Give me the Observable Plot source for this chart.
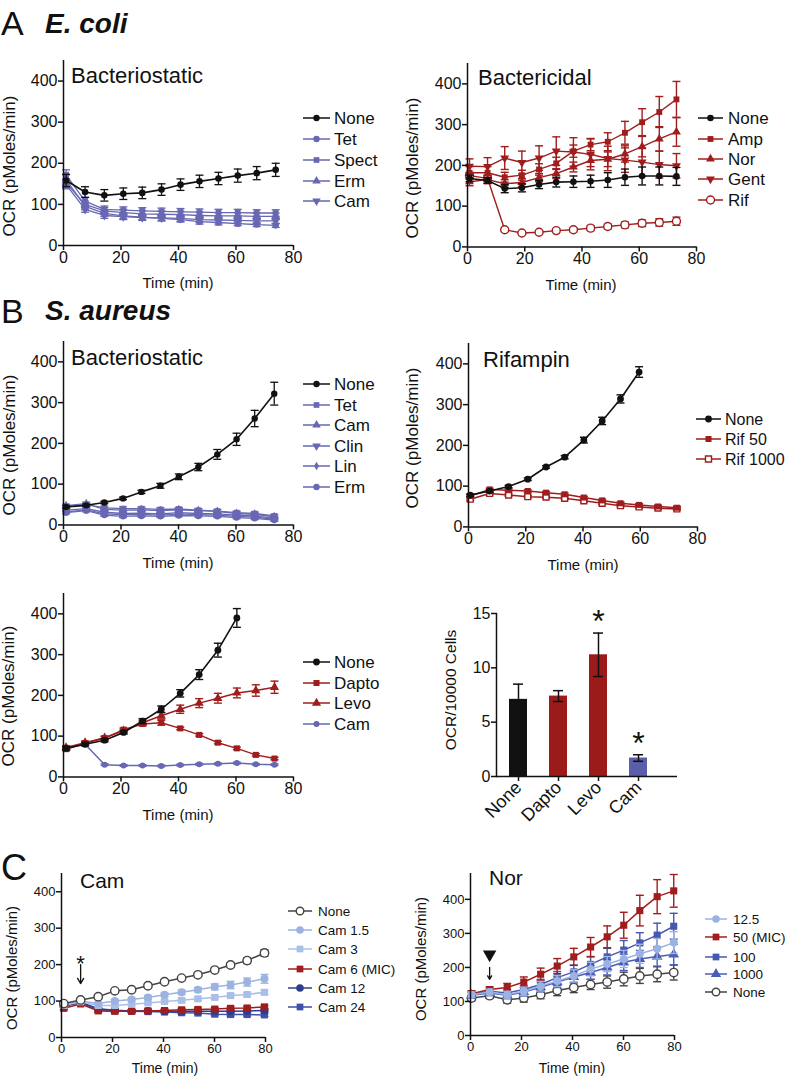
<!DOCTYPE html>
<html><head><meta charset="utf-8">
<script src="https://cdn.jsdelivr.net/npm/d3@7"></script>
<script src="https://cdn.jsdelivr.net/npm/@observablehq/plot@0.6"></script>
<style>
body{margin:0;background:#fff;}
#fig{position:relative;width:789px;height:1078px;overflow:hidden;font-family:"Liberation Sans",Arial,sans-serif;background:#fff;}
#fig svg{position:absolute;}
</style></head><body><div id="fig"></div>
<script>
// ---------------- DATA ----------------
// A: E. coli, bacteriostatic
const ecoliStaticTime = [0.9, 7.5, 14.2, 20.8, 27.4, 34.1, 40.7, 47.3, 53.9, 60.6, 67.2, 73.8];
const ecoliStaticNames = ["None", "Tet", "Spect", "Erm", "Cam"];
const ecoliStaticValues = [
  [158, 130, 122, 126, 128, 136, 148, 156, 163, 170, 176, 184],
  [160, 95, 78, 72, 69, 66, 63, 58, 56, 53, 51, 49],
  [172, 108, 88, 86, 84, 83, 82, 81, 80, 80, 79, 79],
  [152, 100, 84, 80, 77, 76, 75, 73, 72, 72, 71, 71],
  [148, 88, 73, 70, 68, 67, 66, 63, 62, 61, 60, 60]
];
const ecoliStaticErrors = [
  [15, 13, 14, 14, 14, 14, 14, 15, 15, 16, 16, 16],
  [12, 8, 7, 7, 6, 6, 6, 6, 6, 5, 5, 5],
  [12, 9, 8, 8, 8, 8, 8, 8, 8, 8, 8, 8],
  [10, 8, 8, 8, 8, 8, 8, 8, 8, 8, 8, 8],
  [10, 7, 7, 7, 7, 7, 7, 7, 7, 7, 7, 7]
];
// A: E. coli, bactericidal
const ecoliCidalTime = [0.7, 7, 13, 19, 25, 31, 37, 43, 49, 55, 61, 67, 73];
const ecoliCidalNames = ["None", "Amp", "Nor", "Gent", "Rif"];
const ecoliCidalValues = [
  [168, 163, 143, 145, 153, 159, 160, 161, 164, 171, 174, 174, 173],
  [182, 182, 171, 176, 190, 205, 235, 251, 258, 280, 306, 331, 362],
  [160, 165, 155, 158, 170, 180, 196, 212, 215, 228, 246, 265, 282],
  [198, 197, 218, 207, 218, 235, 233, 227, 217, 213, 208, 202, 199],
  [175, 168, 42, 34, 36, 40, 42, 46, 50, 54, 58, 60, 63]
];
const ecoliCidalErrors = [
  [8, 7, 10, 10, 10, 12, 14, 15, 18, 20, 22, 22, 22],
  [15, 15, 12, 12, 14, 15, 15, 15, 22, 28, 33, 38, 44],
  [10, 10, 10, 10, 10, 12, 12, 15, 18, 20, 25, 30, 35],
  [18, 22, 28, 28, 30, 35, 35, 38, 30, 30, 35, 33, 30],
  [8, 8, 4, 3, 3, 4, 5, 6, 6, 7, 8, 9, 10]
];
// B: S. aureus, bacteriostatic
const aureusStaticTime = [0.9, 7.9, 14.2, 20.7, 27.1, 33.7, 40.1, 46.9, 53.5, 60.2, 66.5, 73.3];
const aureusStaticNames = ["None", "Tet", "Cam", "Clin", "Lin", "Erm"];
const aureusStaticValues = [
  [44, 48, 55, 65, 81, 96, 118, 142, 173, 210, 261, 322],
  [45, 50, 42, 40, 40, 38, 39, 36, 34, 30, 28, 22],
  [47, 52, 38, 36, 37, 35, 37, 35, 33, 28, 26, 20],
  [36, 40, 31, 28, 29, 27, 30, 28, 27, 24, 22, 16],
  [32, 37, 27, 25, 26, 24, 27, 25, 24, 21, 19, 14],
  [30, 35, 24, 21, 22, 21, 23, 22, 21, 18, 16, 12]
];
const aureusStaticErrors = [
  [3, 3, 3, 3, 4, 6, 7, 9, 12, 15, 20, 28],
  [4, 4, 4, 4, 4, 4, 4, 4, 4, 4, 4, 4],
  [4, 4, 4, 4, 4, 4, 4, 4, 4, 4, 4, 4],
  [3, 3, 3, 3, 3, 3, 3, 3, 3, 3, 3, 3],
  [3, 3, 3, 3, 3, 3, 3, 3, 3, 3, 3, 3],
  [3, 3, 3, 3, 3, 3, 3, 3, 3, 3, 3, 3]
];
// B: S. aureus, rifampin
const aureusRifTime = [0.6, 7.4, 14, 20.7, 27.1, 33.6, 40.3, 46.7, 53.1, 59.6, 66.2, 72.8];
const aureusRifNames = ["None", "Rif 50", "Rif 1000"];
const aureusRifValues = [
  [78, 88, 99, 117, 147, 171, 213, 260, 314, 380],
  [76, 92, 90, 88, 84, 80, 72, 65, 58, 54, 50, 47],
  [68, 82, 78, 74, 73, 70, 64, 58, 52, 49, 46, 44]
];
const aureusRifErrors = [
  [3, 3, 3, 3, 3, 4, 7, 9, 10, 13],
  [3, 3, 3, 3, 3, 3, 3, 3, 3, 3, 3, 3],
  [3, 3, 3, 3, 3, 3, 3, 3, 3, 3, 3, 3]
];
// B: S. aureus, dapto / levo / cam
const aureusMixTime = [0.9, 7.5, 14.3, 20.9, 27.5, 34, 40.6, 47.2, 53.7, 60.3, 66.9, 73.4];
const aureusMixNames = ["None", "Dapto", "Levo", "Cam"];
const aureusMixValues = [
  [70, 80, 90, 109, 137, 166, 205, 251, 311, 390],
  [68, 83, 95, 116, 130, 133, 119, 103, 84, 70, 54, 45],
  [72, 84, 96, 113, 133, 150, 166, 181, 193, 206, 212, 220],
  [73, 80, 30, 28, 28, 27, 29, 31, 32, 34, 31, 30]
];
const aureusMixErrors = [
  [4, 4, 4, 4, 6, 8, 9, 12, 17, 23],
  [4, 4, 4, 4, 5, 6, 3, 3, 3, 3, 3, 3],
  [4, 4, 4, 4, 6, 8, 10, 11, 12, 12, 14, 15],
  [3, 3, 2, 2, 2, 2, 2, 2, 2, 2, 2, 2]
];
// B: bar chart
const barNames = ["None", "Dapto", "Levo", "Cam"];
const barValues = [7.1, 7.4, 11.2, 1.7];
const barErrors = [1.4, 0.5, 2.0, 0.3];
const starNames = ["Levo", "Cam"];
const starValues = [14.2, 3.0];
// C: Cam doses
const camTime = [0.9, 7.5, 14.4, 20.9, 27.5, 33.9, 40.4, 47.1, 53.5, 60.1, 66.3, 72.8, 79.6];
const camNames = ["None", "Cam 1.5", "Cam 3", "Cam 6 (MIC)", "Cam 12", "Cam 24"];
const camValues = [
  [93, 103, 112, 128, 131, 142, 153, 163, 172, 185, 199, 211, 232],
  [90, 100, 93, 100, 104, 110, 117, 124, 131, 139, 144, 152, 161],
  [88, 98, 88, 88, 91, 95, 99, 102, 106, 110, 115, 118, 124],
  [80, 92, 73, 72, 72, 73, 74, 76, 77, 78, 80, 81, 84],
  [86, 97, 79, 75, 73, 73, 72, 72, 72, 72, 72, 73, 74],
  [87, 95, 76, 73, 72, 71, 70, 68, 67, 64, 63, 63, 62]
];
const camErrors = [
  [3, 3, 3, 3, 3, 3, 3, 3, 3, 4, 5, 8, 9],
  [3, 3, 3, 4, 4, 5, 5, 6, 6, 8, 10, 11, 12],
  [3, 3, 3, 3, 3, 4, 4, 4, 4, 5, 5, 5, 6],
  [4, 4, 4, 4, 4, 4, 4, 4, 4, 4, 4, 4, 4],
  [3, 3, 3, 3, 3, 3, 3, 3, 3, 3, 3, 3, 3],
  [4, 4, 4, 4, 4, 4, 4, 4, 4, 4, 4, 4, 4]
];
const camMarkerTime = 7.5, camMarkerStar = 219, camArrowTop = 200, camArrowTip = 148;
// C: Nor doses
const norTime = [0.4, 7.5, 14.4, 20.9, 27.5, 34, 40.5, 47.1, 53.6, 60.1, 66.4, 73.2, 79.7];
const norNames = ["12.5", "50 (MIC)", "100", "1000", "None"];
const norValues = [
  [120, 128, 120, 130, 145, 160, 175, 195, 210, 225, 240, 255, 273],
  [123, 135, 141, 157, 180, 204, 231, 260, 290, 324, 367, 408, 425],
  [122, 130, 125, 135, 150, 170, 187, 209, 231, 251, 272, 295, 321],
  [118, 125, 118, 128, 142, 157, 172, 185, 200, 215, 225, 232, 238],
  [110, 117, 105, 110, 120, 132, 141, 150, 157, 166, 175, 180, 185]
];
const norErrors = [
  [8, 8, 10, 12, 14, 16, 18, 20, 22, 25, 28, 30, 32],
  [8, 8, 12, 15, 18, 22, 25, 28, 32, 38, 45, 50, 48],
  [8, 8, 10, 12, 15, 18, 20, 22, 25, 28, 30, 35, 38],
  [8, 8, 10, 12, 14, 16, 18, 20, 22, 24, 25, 28, 30],
  [8, 8, 10, 12, 12, 15, 15, 15, 18, 20, 22, 22, 22]
];
const norMarkerTime = 7.5, norMarkerHead = 238, norArrowTop = 200, norArrowTip = 165;
const xTicks = [0, 20, 40, 60, 80];
const yTicks = [0, 100, 200, 300, 400];
const barTicks = [0, 5, 10, 15];

// ---------------- STYLES ----------------
const K = "#111111", BL = "#6767b3", RD = "#a11d1d";
const LB1 = "#9cb3e2", LB2 = "#aabfe8", DB1 = "#2f3d8f", DB2 = "#3f50a6", MB1 = "#4658b0", MB2 = "#4b5db8";
const FONT = "'Liberation Sans', Arial, sans-serif";
const fig = document.getElementById("fig");

function place(svg, left, top) {
  svg.style.left = left + "px"; svg.style.top = top + "px";
  fig.appendChild(svg);
}

function linePanel(c) {
  const left = c.fx0 - 62, top = c.fyTop - 10;
  const W = c.fx1 + 14 - left, H = c.fy0 + 30 - top;
  const cap = c.cap / ((c.fx1 - c.fx0) / 80);
  const rows = [];
  c.names.forEach((n, i) => c.values[i].forEach((v, j) => rows.push({name: n, i, t: c.time[j], v, e: c.errors[i][j]})));
  const marks = [];
  for (let i = c.names.length - 1; i >= 0; i--) {
    const d = rows.filter(r => r.i === i);
    const st = c.styles[i];
    marks.push(
      Plot.ruleX(d, {x: "t", y1: r => r.v - r.e, y2: r => r.v + r.e, stroke: st.color, strokeWidth: c.ew}),
      Plot.link(d, {x1: r => r.t - cap, x2: r => r.t + cap, y1: r => r.v + r.e, y2: r => r.v + r.e, stroke: st.color, strokeWidth: c.ew}),
      Plot.link(d, {x1: r => r.t - cap, x2: r => r.t + cap, y1: r => r.v - r.e, y2: r => r.v - r.e, stroke: st.color, strokeWidth: c.ew}),
      Plot.line(d, {x: "t", y: "v", stroke: st.color, strokeWidth: st.lw || c.lw}),
      Plot.dot(d, {x: "t", y: "v", symbol: st.symbol, rotate: st.rotate || 0, r: st.r || c.r,
        fill: st.open ? "white" : st.color, stroke: st.color, strokeWidth: st.open ? 1.4 : 0})
    );
  }
  if (c.extra) marks.push(...c.extra);
  marks.push(
    Plot.ruleX([0], {strokeWidth: 1.5, stroke: K}),
    Plot.ruleY([0], {strokeWidth: 1.5, stroke: K}),
    Plot.axisX({ticks: xTicks, tickSize: 5, tickPadding: 1, fontSize: c.tickFont, label: null, strokeWidth: 1.5}),
    Plot.axisY({ticks: yTicks, tickSize: 5, tickPadding: 1, fontSize: c.tickFont, label: null, strokeWidth: 1.5})
  );
  const svg = Plot.plot({
    width: W, height: H,
    marginLeft: c.fx0 - left, marginRight: left + W - c.fx1,
    marginTop: c.fyTop - top, marginBottom: top + H - c.fy0,
    x: {domain: [0, 80]}, y: {domain: [0, c.yMax]},
    style: {fontFamily: FONT, color: K, background: "transparent", overflow: "visible"},
    marks
  });
  place(svg, left, top);
}

// A left
linePanel({fx0: 63, fx1: 293, fy0: 245, fyTop: 60, yMax: 450, time: ecoliStaticTime, names: ecoliStaticNames,
  values: ecoliStaticValues, errors: ecoliStaticErrors, cap: 4, ew: 1.3, lw: 1.3, r: 3.3, tickFont: 16,
  styles: [{color: K, symbol: "circle", lw: 1.6}, {color: BL, symbol: "circle"}, {color: BL, symbol: "square"},
    {color: BL, symbol: "triangle"}, {color: BL, symbol: "triangle", rotate: 180}]});
// A right
linePanel({fx0: 467, fx1: 696, fy0: 246, fyTop: 62.6, yMax: 450, time: ecoliCidalTime, names: ecoliCidalNames,
  values: ecoliCidalValues, errors: ecoliCidalErrors, cap: 4, ew: 1.4, lw: 1.4, r: 3.3, tickFont: 16,
  styles: [{color: K, symbol: "circle", lw: 1.6}, {color: RD, symbol: "square"}, {color: RD, symbol: "triangle"},
    {color: RD, symbol: "triangle", rotate: 180}, {color: RD, symbol: "circle", open: true, r: 4}]});
// B left
linePanel({fx0: 63, fx1: 293, fy0: 524, fyTop: 340.6, yMax: 450, time: aureusStaticTime, names: aureusStaticNames,
  values: aureusStaticValues, errors: aureusStaticErrors, cap: 4, ew: 1.3, lw: 1.3, r: 3.2, tickFont: 16,
  styles: [{color: K, symbol: "circle", lw: 1.6}, {color: BL, symbol: "square"}, {color: BL, symbol: "triangle"},
    {color: BL, symbol: "triangle", rotate: 180}, {color: BL, symbol: "diamond", r: 2.6}, {color: BL, symbol: "circle"}]});
// B right
linePanel({fx0: 468, fx1: 697, fy0: 526, fyTop: 342.6, yMax: 450, time: aureusRifTime, names: aureusRifNames,
  values: aureusRifValues, errors: aureusRifErrors, cap: 4, ew: 1.4, lw: 1.5, r: 3.4, tickFont: 16,
  styles: [{color: K, symbol: "circle", lw: 1.6}, {color: RD, symbol: "square"}, {color: RD, symbol: "square", open: true, r: 3.3}]});
// B lower left
linePanel({fx0: 63, fx1: 293, fy0: 776, fyTop: 592.6, yMax: 450, time: aureusMixTime, names: aureusMixNames,
  values: aureusMixValues, errors: aureusMixErrors, cap: 4, ew: 1.4, lw: 1.5, r: 3.4, tickFont: 16,
  styles: [{color: K, symbol: "circle", lw: 1.6}, {color: RD, symbol: "square"}, {color: RD, symbol: "triangle"},
    {color: BL, symbol: "circle", r: 3}]});
// C left
linePanel({fx0: 61, fx1: 265, fy0: 1037, fyTop: 873, yMax: 450, time: camTime, names: camNames,
  values: camValues, errors: camErrors, cap: 4, ew: 1.4, lw: 1.5, r: 4, tickFont: 13,
  styles: [{color: "#444", symbol: "circle", open: true, r: 4.2}, {color: LB1, symbol: "circle"}, {color: LB2, symbol: "square"},
    {color: RD, symbol: "square"}, {color: DB1, symbol: "circle"}, {color: DB2, symbol: "square"}],
  extra: [
    Plot.arrow([{t: camMarkerTime}], {x1: "t", x2: "t", y1: () => camArrowTop, y2: () => camArrowTip, stroke: K, strokeWidth: 1.3, headLength: 7}),
    Plot.text([{t: camMarkerTime}], {x: "t", y: () => camMarkerStar, text: () => "*", fontSize: 22, fill: K, dy: 6})
  ]});
// C right
linePanel({fx0: 470, fx1: 674, fy0: 1035, fyTop: 873, yMax: 476, time: norTime, names: norNames,
  values: norValues, errors: norErrors, cap: 4, ew: 1.4, lw: 1.5, r: 4, tickFont: 13,
  styles: [{color: LB1, symbol: "circle"}, {color: RD, symbol: "square"}, {color: MB1, symbol: "square"},
    {color: MB2, symbol: "triangle"}, {color: "#444", symbol: "circle", open: true, r: 4.2}],
  extra: [
    Plot.arrow([{t: norMarkerTime}], {x1: "t", x2: "t", y1: () => norArrowTop, y2: () => norArrowTip, stroke: K, strokeWidth: 1.3, headLength: 7}),
    Plot.dot([{t: norMarkerTime}], {x: "t", y: () => norMarkerHead, symbol: "triangle", rotate: 180, r: 5, fill: K})
  ]});

// Bar chart
{
  const rows = barNames.map((n, i) => ({name: n, v: barValues[i], e: barErrors[i]}));
  const stars = starNames.map((n, i) => ({name: n, y: starValues[i]}));
  const svg = Plot.plot({
    width: 300, height: 245, marginLeft: 96, marginRight: 23, marginTop: 18, marginBottom: 64,
    x: {domain: barNames, range: [96, 259], paddingInner: 0.55, paddingOuter: 0.275},
    y: {domain: [0, 15]},
    color: {domain: barNames, range: [K, "#9b1b1b", "#9b1b1b", "#5b5ea8"]},
    style: {fontFamily: FONT, color: K, background: "transparent", overflow: "visible"},
    marks: [
      Plot.barY(rows, {x: "name", y: "v", fill: "name"}),
      Plot.ruleX(rows, {x: "name", y1: d => d.v - d.e, y2: d => d.v + d.e, stroke: K, strokeWidth: 1.5}),
      Plot.tickY(rows, {x: "name", y: d => d.v + d.e, insetLeft: 4, insetRight: 4, stroke: K, strokeWidth: 1.5}),
      Plot.tickY(rows, {x: "name", y: d => d.v - d.e, insetLeft: 4, insetRight: 4, stroke: K, strokeWidth: 1.5}),
      Plot.text(stars, {x: "name", y: "y", text: () => "*", fontSize: 32, fill: K}),
      Plot.ruleY([0], {stroke: K, strokeWidth: 1.5}),
      Plot.frame({anchor: "left", stroke: K, strokeWidth: 1.5}),
      Plot.axisY({ticks: barTicks, tickSize: 5, tickPadding: 1, fontSize: 16, label: null, strokeWidth: 1.5}),
      Plot.axisX({tickRotate: -45, tickSize: 5, tickPadding: 3, fontSize: 18, label: null, strokeWidth: 1.5})
    ]
  });
  place(svg, 400, 595);
}

// ---------------- OVERLAY: titles, labels, legends ----------------
const ov = d3.select(fig).append("svg").attr("width", 789).attr("height", 1078)
  .style("left", "0px").style("top", "0px").style("font-family", FONT).style("pointer-events", "none");

function txt(x, y, s, o = {}) {
  const t = ov.append("text").attr("x", x).attr("y", y).text(s)
    .attr("font-size", o.size || 15).attr("fill", K)
    .attr("text-anchor", o.anchor || "start");
  if (o.weight) t.attr("font-weight", o.weight);
  if (o.italic) t.attr("font-style", "italic");
  return t;
}
function ylab(x, y, s, size) {
  ov.append("text").attr("transform", `translate(${x},${y}) rotate(-90)`).attr("text-anchor", "middle")
    .attr("dy", "0.35em").attr("font-size", size).attr("fill", K).text(s);
}
function legend(names, styles, x1, x2, tx, ys, size, r, lw) {
  names.forEach((n, i) => {
    const st = styles[i], y = ys[i], rr = st.r || r;
    ov.append("line").attr("x1", x1).attr("x2", x2).attr("y1", y).attr("y2", y)
      .attr("stroke", st.color).attr("stroke-width", lw);
    const type = {circle: d3.symbolCircle, square: d3.symbolSquare, triangle: d3.symbolTriangle, diamond: d3.symbolDiamond}[st.symbol];
    ov.append("path").attr("d", d3.symbol().type(type).size(Math.PI * rr * rr)())
      .attr("transform", `translate(${(x1 + x2) / 2},${y}) rotate(${st.rotate || 0})`)
      .attr("fill", st.open ? "white" : st.color).attr("stroke", st.open ? st.color : "none").attr("stroke-width", 1.4);
    txt(tx, y, n, {size}).attr("dy", "0.36em");
  });
}

// panel letters and species
txt(1, 35, "A", {size: 34});
txt(45, 33, "E. coli", {size: 28, weight: "bold", italic: true});
txt(1, 323, "B", {size: 34});
txt(45, 320, "S. aureus", {size: 28, weight: "bold", italic: true});
txt(1, 880, "C", {size: 36});

// titles
txt(71, 83, "Bacteriostatic", {size: 22});
txt(478, 85, "Bactericidal", {size: 22});
txt(71, 365, "Bacteriostatic", {size: 22});
txt(483, 367, "Rifampin", {size: 22});
txt(80, 888, "Cam", {size: 21});
txt(489, 885, "Nor", {size: 21});

// x labels
[[178, 288], [581, 290], [178, 568], [583, 570], [178, 820]].forEach(([x, y]) => txt(x, y, "Time (min)", {size: 15, anchor: "middle"}));
[[165, 1073], [572, 1073]].forEach(([x, y]) => txt(x, y, "Time (min)", {size: 14, anchor: "middle"}));

// y labels
ylab(9, 166, "OCR (pMoles/min)", 17);
ylab(412, 168, "OCR (pMoles/min)", 17);
ylab(9, 445, "OCR (pMoles/min)", 17);
ylab(412, 438, "OCR (pMoles/min)", 17);
ylab(8, 696, "OCR (pMoles/min)", 17);
ylab(12, 968, "OCR (pMoles/min)", 15);
ylab(421, 959, "OCR (pMoles/min)", 15);
ylab(451, 690, "OCR/10000 Cells", 15.5);

// legends
legend(ecoliStaticNames, [{color: K, symbol: "circle"}, {color: BL, symbol: "circle"}, {color: BL, symbol: "square"},
  {color: BL, symbol: "triangle"}, {color: BL, symbol: "triangle", rotate: 180}], 303, 330, 334, [118, 139, 160, 181, 201], 17, 3.2, 1.5);
legend(ecoliCidalNames, [{color: K, symbol: "circle"}, {color: RD, symbol: "square"}, {color: RD, symbol: "triangle"},
  {color: RD, symbol: "triangle", rotate: 180}, {color: RD, symbol: "circle", open: true, r: 4}], 698, 723, 728, [118, 139, 159, 179, 200], 17, 3.3, 1.5);
legend(aureusStaticNames, [{color: K, symbol: "circle"}, {color: BL, symbol: "square"}, {color: BL, symbol: "triangle"},
  {color: BL, symbol: "triangle", rotate: 180}, {color: BL, symbol: "diamond", r: 2.6}, {color: BL, symbol: "circle"}], 303, 330, 334, [384, 405, 425, 446, 466, 487], 17, 3.2, 1.5);
legend(aureusRifNames, [{color: K, symbol: "circle"}, {color: RD, symbol: "square"}, {color: RD, symbol: "square", open: true}], 696, 721, 725, [419, 439, 459], 16, 3.4, 1.5);
legend(aureusMixNames, [{color: K, symbol: "circle"}, {color: RD, symbol: "square"}, {color: RD, symbol: "triangle"},
  {color: BL, symbol: "circle", r: 3}], 303, 330, 334, [662, 683, 703, 724], 17, 3.4, 1.5);
legend(camNames, [{color: "#444", symbol: "circle", open: true}, {color: LB1, symbol: "circle"}, {color: LB2, symbol: "square"},
  {color: RD, symbol: "square"}, {color: DB1, symbol: "circle"}, {color: DB2, symbol: "square"}], 288, 312, 318, [911, 930, 949, 969, 988, 1007], 13.5, 3.8, 1.5);
legend(norNames, [{color: LB1, symbol: "circle"}, {color: RD, symbol: "square"}, {color: MB1, symbol: "square"},
  {color: MB2, symbol: "triangle"}, {color: "#444", symbol: "circle", open: true}], 705, 727, 733, [919, 937, 957, 974, 992], 13.5, 3.8, 1.5);
</script>
</body></html>
